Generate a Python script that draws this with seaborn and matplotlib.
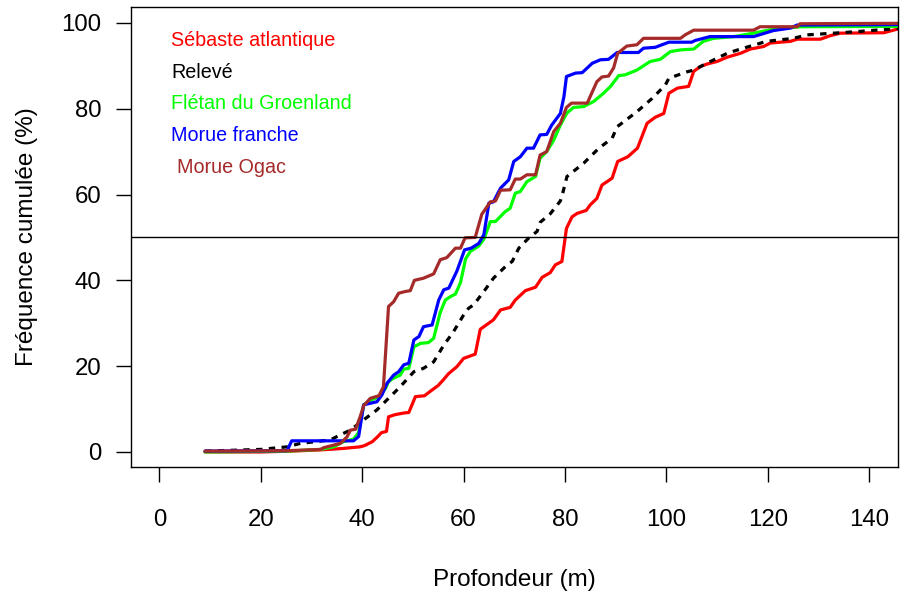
import matplotlib
matplotlib.use("Agg")
import matplotlib.pyplot as plt
import seaborn as sns
import pandas as pd

sns.set_style("white")
plt.rcParams['font.family'] = ['Liberation Sans', 'DejaVu Sans']

series_names = ["Sébaste atlantique", "Relevé", "Flétan du Groenland", "Morue franche", "Morue Ogac"]
series_colors = ["#FF0000", "#000000", "#00FF00", "#0000FF", "#A52A2A"]

sebaste_depth = [9, 20, 26, 32, 36, 39.6, 40.5, 42.0, 43.0, 43.8, 44.8, 45.2, 46.5, 48.3, 49.2, 50.5,
                 52.3, 53.5, 55.0, 56.0, 57.0, 58.7, 60.0, 62.3, 63.3, 65.9, 67.3, 69.2, 70.2, 72.2,
                 74.2, 75.5, 77.1, 78.1, 79.4, 80.3, 81.4, 82.4, 84.2, 85.0, 86.3, 87.3, 89.3, 90.4,
                 92.4, 94.3, 96.2, 97.8, 99.5, 100.5, 102.2, 104.4, 105.4, 106.7, 108.0, 110.0, 112.0,
                 114.6, 116.6, 119.2, 120.5, 124.5, 125.8, 130.4, 132.3, 134.3, 142.9, 144.8, 147]
sebaste_freq = [0, 0, 0.2, 0.5, 0.8, 1.2, 1.5, 2.4, 3.5, 4.5, 4.8, 8.2, 8.7, 9.1, 9.2, 12.9,
                13.1, 14.2, 15.5, 16.8, 18.2, 19.9, 21.8, 22.8, 28.6, 30.8, 33.1, 33.7, 35.4, 37.6,
                38.4, 40.7, 41.8, 43.6, 44.4, 52.1, 54.8, 55.6, 56.3, 57.6, 59.1, 62.2, 63.8, 67.7,
                68.8, 70.8, 76.6, 78.0, 78.9, 83.6, 84.8, 85.2, 88.7, 89.8, 90.4, 91.0, 92.0,
                92.9, 93.9, 94.5, 95.3, 95.7, 96.2, 96.2, 97.0, 97.6, 97.7, 98.3, 99.0]

releve_depth = [9, 20, 25.2, 27.8, 33.7, 35.7, 37.7, 40.3, 42.9, 45.2, 47.5, 50.2, 52.1, 54.1, 56.1,
                58.0, 60.0, 61.0, 62.0, 64.0, 65.9, 68.6, 69.6, 70.9, 72.8, 74.5, 75.1, 77.1, 79.1,
                79.6, 80.4, 83.7, 86.7, 89.3, 90.3, 94.2, 97.2, 99.8, 100.5, 104.1, 105.4, 108, 112,
                114.6, 119.8, 125.1, 127.7, 133, 135.6, 144.8, 147]
releve_freq = [0.2, 0.6, 1.2, 2.0, 2.8, 4.0, 5.1, 7.5, 9.8, 12.5, 15.2, 18.7, 19.5, 21.0, 24.9,
               28.0, 31.9, 33.5, 34.3, 37.4, 40.5, 43.6, 44.4, 47.5, 49.8, 51.4, 53.5, 55.5, 58.5,
               60.5, 64.2, 67.3, 70.8, 73.1, 75.8, 79.3, 82.4, 85.5, 87.1, 88.6, 89.0, 90.6, 92.9,
               93.9, 95.7, 96.4, 97.2, 97.6, 97.8, 98.6, 98.8]

fletan_depth = [9, 25.2, 31.8, 34.4, 36.3, 38.3, 39.3, 40.3, 41.6, 43.3, 44.6, 45.2, 46.2, 47.5, 48.2,
                49.2, 50.2, 51.5, 53.1, 54.1, 55.4, 56.4, 57.4, 58.4, 59.4, 60.4, 61.3, 63.0, 64.0,
                65.3, 66.3, 68.2, 69.2, 70.2, 71.2, 72.5, 74.2, 75.1, 76.4, 77.8, 79.1, 80.4, 81.7,
                83.7, 85.7, 87.6, 89.0, 90.6, 91.9, 94.2, 96.8, 98.8, 100.8, 102.8, 105.4, 107.3,
                109.3, 113.3, 117.2, 120.5, 126.4, 147]
fletan_freq = [0, 0.2, 0.6, 1.2, 2.4, 3.0, 4.5, 11.0, 12.0, 12.9, 14.8, 16.4, 17.2, 17.9, 19.3,
               19.5, 24.5, 25.3, 25.5, 26.5, 32.5, 35.4, 36.2, 36.8, 39.5, 45.0, 46.7, 48.0, 49.6,
               53.7, 53.7, 56.0, 56.8, 60.3, 60.7, 63.0, 64.2, 68.5, 70.0, 72.7, 76.2, 79.0, 80.3,
               80.5, 81.7, 83.6, 85.2, 87.7, 87.9, 89.0, 91.0, 91.5, 93.3, 93.7, 93.9, 95.7,
               96.4, 96.8, 97.6, 98.4, 99.1, 99.2]

franche_depth = [9, 25.2, 26.1, 37.0, 38.3, 39.3, 40.3, 42.9, 43.9, 44.9, 46.2, 47.2, 48.2, 49.2,
                 50.2, 51.2, 52.1, 53.8, 55.1, 56.1, 57.1, 58.7, 60.2, 61.5, 63.0, 64.0, 65.0, 65.9,
                 67.3, 68.9, 69.9, 71.2, 72.5, 73.8, 75.1, 76.4, 77.4, 79.1, 79.8, 80.3, 82.1, 83.4,
                 85.4, 87.0, 88.6, 90.3, 94.5, 95.5, 97.8, 100.5, 105.0, 105.7, 108.6, 117.2, 121.1,
                 124.5, 125.8, 147]
franche_freq = [0.2, 0.3, 2.6, 2.6, 2.6, 3.6, 11.0, 11.7, 13.3, 16.0, 17.9, 18.7, 20.3, 20.7,
                26.1, 26.9, 29.2, 29.6, 35.4, 37.8, 38.2, 42.2, 47.1, 47.5, 48.6, 50.6, 58.0, 58.3,
                61.5, 63.4, 67.7, 68.8, 70.8, 70.8, 73.9, 74.0, 76.2, 78.9, 82.8, 87.5, 88.3, 88.4,
                90.6, 91.4, 91.5, 93.1, 93.1, 94.1, 94.3, 95.5, 95.5, 95.9, 96.8, 96.8, 98.2,
                98.8, 99.5, 99.6]

ogac_depth = [9, 25.2, 31.8, 32.4, 35.7, 37.0, 37.7, 38.7, 39.6, 40.3, 41.6, 43.3, 44.2, 45.2, 46.2,
              47.2, 48.5, 49.5, 50.3, 52.1, 54.1, 55.4, 56.7, 58.4, 59.4, 60.3, 62.3, 63.6, 65.3,
              66.3, 67.3, 69.2, 70.2, 71.2, 72.5, 74.2, 75.1, 76.4, 77.8, 79.1, 80.3, 81.3, 84.4,
              86.3, 87.3, 88.6, 89.6, 90.4, 92.2, 94.2, 95.5, 102.8, 103.7, 105.4, 117.2, 118.5,
              125.8, 126.4, 147]
ogac_freq = [0.2, 0.3, 0.6, 1.0, 2.0, 3.5, 5.1, 5.3, 8.2, 10.8, 12.5, 13.1, 15.2, 33.9, 35.0,
             37.0, 37.4, 37.6, 40.0, 40.5, 41.5, 44.8, 45.3, 47.5, 47.5, 49.9, 50.0, 55.4, 58.3,
             58.5, 61.0, 61.1, 63.6, 63.6, 64.6, 64.6, 69.2, 70.0, 74.7, 76.6, 80.3, 81.3, 81.3,
             86.3, 87.4, 87.6, 89.5, 92.9, 94.6, 94.9, 96.4, 96.4, 97.2, 98.3, 98.3, 99.1,
             99.1, 99.8, 99.9]

x_ticks = [0, 20, 40, 60, 80, 100, 120, 140]
y_ticks = [0, 20, 40, 60, 80, 100]
ref_line = 50

all_depths = [sebaste_depth, releve_depth, fletan_depth, franche_depth, ogac_depth]
all_freqs = [sebaste_freq, releve_freq, fletan_freq, franche_freq, ogac_freq]

fig = plt.figure(figsize=(9, 5.96), dpi=100)
ax = fig.add_axes([131/900, 1-467/596, (898-131)/900, (467-7)/596])

lw = 2.3
for name, col, d, f in zip(series_names, series_colors, all_depths, all_freqs):
    df = pd.DataFrame({"depth": d, "freq": f})
    line_ax = sns.lineplot(data=df, x="depth", y="freq", color=col, linewidth=lw,
                           sort=False, estimator=None, ax=ax)
    if name == "Relevé":
        ln = line_ax.get_lines()[-1]
        ln.set_dashes((2.0, 2.0))
        ln.set_dash_capstyle("butt")

ax.axhline(ref_line, color="black", linewidth=1.0)

ax.set_xlim(-5.6, 145.7)
ax.set_ylim(-3.5, 103.7)
ax.set_xticks(x_ticks)
ax.set_yticks(y_ticks)
ax.tick_params(axis="both", direction="out", length=10.5, width=1.0, labelsize=17.3,
               color="black", labelcolor="black", bottom=True, left=True)
ax.tick_params(axis="x", pad=20)
ax.tick_params(axis="y", pad=11)
for sp in ax.spines.values():
    sp.set_visible(True)
    sp.set_color("black")
    sp.set_linewidth(1.0)

ax.set_xlabel("Profondeur (m)", fontsize=17.5, color="black")
ax.set_ylabel("Fréquence cumulée (%)", fontsize=17.5, color="black")
ax.xaxis.set_label_coords(0.5, -0.221)
ax.yaxis.set_label_coords(-0.121, 0.5)

legend_x = [2.37, 2.37, 2.37, 2.37, 3.55]
legend_y = [94.6, 87.2, 79.9, 72.5, 65.1]
for name, col, lx, ly in zip(series_names, series_colors, legend_x, legend_y):
    ax.text(lx, ly, name, color=col, fontsize=14.2, ha="left", va="baseline")

fig.savefig("out.png", dpi=100)
